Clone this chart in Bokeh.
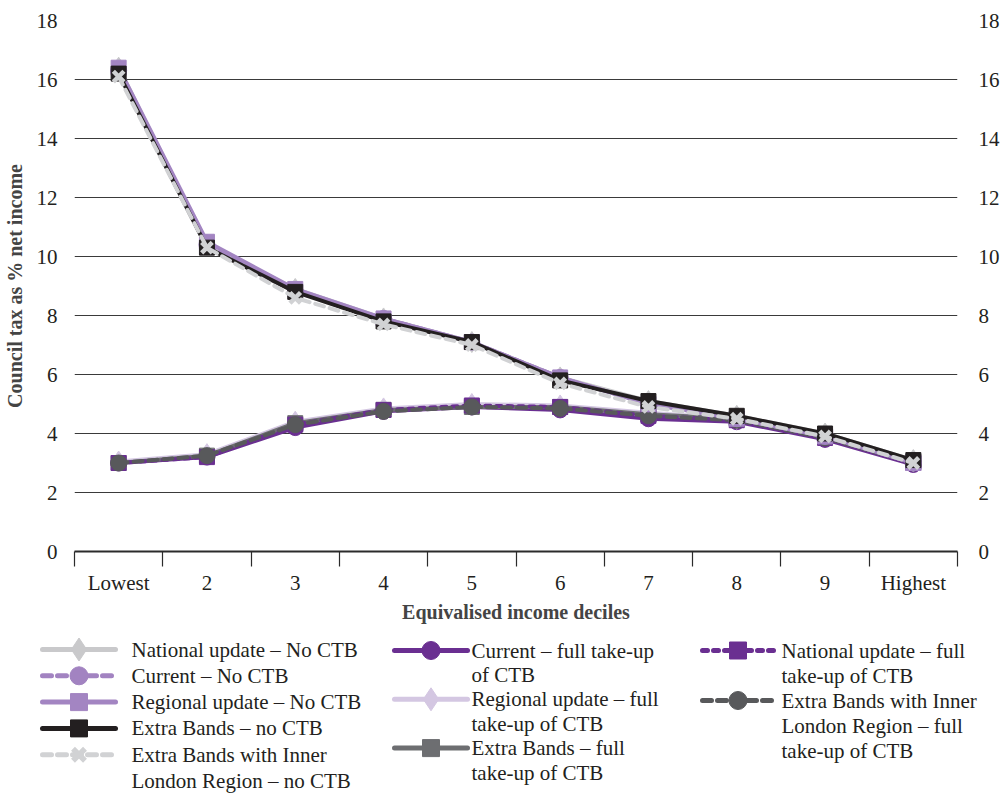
from bokeh.plotting import figure
from bokeh.models import FixedTicker, LinearAxis, Range1d, ColumnDataSource
from bokeh.core.properties import value
from bokeh.embed import file_html
from bokeh.resources import INLINE

# ---------------- data ----------------
deciles = ["Lowest", "2", "3", "4", "5", "6", "7", "8", "9", "Highest"]

national_no_ctb = [16.4, 10.4, 8.9, 7.9, 7.1, 5.9, 5.1, 4.6, 4.0, 3.1]
current_no_ctb = [16.3, 10.4, 8.8, 7.9, 7.1, 5.9, 5.0, 4.5, 3.9, 3.0]
regional_no_ctb = [16.4, 10.5, 8.9, 7.9, 7.1, 5.9, 5.0, 4.5, 3.9, 3.0]
extra_no_ctb = [16.2, 10.3, 8.8, 7.8, 7.1, 5.8, 5.1, 4.6, 4.0, 3.1]
extra_inner_no_ctb = [16.1, 10.3, 8.6, 7.7, 7.0, 5.7, 4.9, 4.5, 3.9, 3.0]

current_full = [3.0, 3.2, 4.2, 4.75, 4.9, 4.8, 4.5, 4.4, 3.8, 2.95]
regional_full = [3.05, 3.3, 4.4, 4.85, 5.0, 4.95, 4.7, 4.5, 3.95, 3.05]
extra_full = [3.0, 3.25, 4.35, 4.8, 4.9, 4.9, 4.65, 4.5, 3.9, 3.05]
national_full = [3.0, 3.2, 4.3, 4.8, 4.95, 4.9, 4.6, 4.45, 3.85, 3.0]
extra_inner_full = [3.0, 3.25, 4.3, 4.75, 4.9, 4.85, 4.6, 4.45, 3.85, 3.0]

y_ticks = [0, 2, 4, 6, 8, 10, 12, 14, 16, 18]

FONT = "Liberation Serif"

series = [
    ("National update \u2013 No CTB", national_no_ctb, "#c9c9cb", "solid", "diamond"),
    ("Current \u2013 No CTB", current_no_ctb, "#a283c1", "dashed", "circle"),
    ("Regional update \u2013 No CTB", regional_no_ctb, "#a385c2", "solid", "square"),
    ("Extra Bands \u2013 no CTB", extra_no_ctb, "#231f20", "solid", "square"),
    ("Extra Bands with Inner London Region \u2013 no CTB", extra_inner_no_ctb, "#d1d2d4", "dashed", "x"),
    ("Current \u2013 full take-up of CTB", current_full, "#6a2f91", "solid", "circle"),
    ("Regional update \u2013 full take-up of CTB", regional_full, "#d4c7e2", "solid", "diamond"),
    ("Extra Bands \u2013 full take-up of CTB", extra_full, "#6d6e71", "solid", "square"),
    ("National update \u2013 full take-up of CTB", national_full, "#6a2f91", "dotted", "square"),
    ("Extra Bands with Inner London Region \u2013 full take-up of CTB", extra_inner_full, "#58595b", "dashed", "circle"),
]

DASH = {"solid": "solid", "dashed": "9 6", "dotted": "5 6"}
MSIZE = {"diamond": 21, "circle": 16, "square": 15, "x": 15}

xs = [i + 0.5 for i in range(len(deciles))]

# ---------------- main chart ----------------
p = figure(frame_width=883, frame_height=531, output_backend="svg", toolbar_location=None,
           x_range=Range1d(0, len(deciles)), y_range=Range1d(0, 18),
           min_border_left=74, min_border_right=39, min_border_top=20, min_border_bottom=69,
           y_axis_location=None, x_axis_location=None)
p.outline_line_color = None
p.background_fill_color = "white"
p.border_fill_color = "white"

p.ygrid.ticker = FixedTicker(ticks=y_ticks[1:])
p.ygrid.grid_line_color = "#3a3a3a"
p.ygrid.grid_line_width = 1.2
p.xgrid.grid_line_color = None

xaxis = LinearAxis(ticker=FixedTicker(ticks=xs, minor_ticks=list(range(len(deciles) + 1))),
                   major_label_overrides={x: d for x, d in zip(xs, deciles)})
xaxis.axis_label = "Equivalised income deciles"
xaxis.axis_label_text_font = FONT
xaxis.axis_label_text_font_style = "bold"
xaxis.axis_label_text_font_size = "20px"
xaxis.axis_label_standoff = 3
xaxis.axis_line_color = "#2b2b2b"
xaxis.axis_line_width = 2
xaxis.major_tick_line_color = None
xaxis.minor_tick_line_color = "#2b2b2b"
xaxis.minor_tick_line_width = 1.2
xaxis.minor_tick_in = 0
xaxis.minor_tick_out = 15
xaxis.major_label_standoff = 4
xaxis.major_label_text_font = FONT
xaxis.major_label_text_font_size = "21px"
xaxis.major_label_text_color = "#231f20"
p.add_layout(xaxis, "below")

for side in ("left", "right"):
    ax = LinearAxis(ticker=FixedTicker(ticks=y_ticks))
    ax.axis_line_color = None
    ax.major_tick_line_color = None
    ax.minor_tick_line_color = None
    ax.major_label_text_font = FONT
    ax.major_label_text_font_size = "21px"
    ax.major_label_text_color = "#231f20"
    if side == "left":
        ax.major_label_standoff = 11
        ax.axis_label = "Council tax as % net income"
        ax.axis_label_text_font = FONT
        ax.axis_label_text_font_style = "bold"
        ax.axis_label_text_font_size = "20px"
        ax.axis_label_standoff = 8
    else:
        ax.major_label_standoff = 15
    p.add_layout(ax, side)

order = list(range(5, 10)) + list(range(0, 5))
for i in order:
    name, vals, col, dash, marker = series[i]
    src = ColumnDataSource(dict(x=xs, y=vals))
    p.line("x", "y", source=src, line_color=col, line_width=4, line_dash=DASH[dash],
           line_cap="round", line_join="round")
    if marker == "x":
        p.scatter("x", "y", source=src, marker="x", size=MSIZE[marker], line_color=col, line_width=4.5)
    else:
        p.scatter("x", "y", source=src, marker=marker, size=MSIZE[marker], fill_color=col, line_color=col)

# ---------------- legend (separate panel, pixel coordinates) ----------------
LEG_H = 173
leg = figure(width=996, height=LEG_H, output_backend="svg", toolbar_location=None,
             x_range=Range1d(0, 996), y_range=Range1d(LEG_H, 0),
             min_border=0, min_border_left=0, min_border_right=0,
             min_border_top=0, min_border_bottom=0,
             x_axis_location=None, y_axis_location=None)
leg.outline_line_color = None
leg.grid.grid_line_color = None

legend_lines = [
    ["National update \u2013 No CTB"],
    ["Current \u2013 No CTB"],
    ["Regional update \u2013 No CTB"],
    ["Extra Bands \u2013 no CTB"],
    ["Extra Bands with Inner", "London Region \u2013 no CTB"],
    ["Current \u2013 full take-up", "of CTB"],
    ["Regional update \u2013 full", "take-up of CTB"],
    ["Extra Bands \u2013 full", "take-up of CTB"],
    ["National update \u2013 full", "take-up of CTB"],
    ["Extra Bands with Inner", "London Region \u2013 full", "take-up of CTB"],
]
cols = [
    (42, 115, 131, 24, 26.3, [0, 1, 2, 3, 4]),
    (394, 467, 471, 25, 24.4, [5, 6, 7]),
    (702, 773, 781, 25, 25.0, [8, 9]),
]
for x0, x1, tx, y0, step, idxs in cols:
    yy = y0
    for i in idxs:
        name, vals, col, dash, marker = series[i]
        leg.line([x0, x1], [yy, yy], line_color=col, line_width=5, line_dash=DASH[dash], line_cap="round")
        xm = (x0 + x1) / 2
        if marker == "x":
            leg.scatter([xm], [yy], marker="x", size=17, line_color=col, line_width=5.5)
        else:
            leg.scatter([xm], [yy], marker=marker, size=MSIZE[marker] + 2, fill_color=col, line_color=col)
        lines = legend_lines[i]
        leg.text([tx] * len(lines), [yy + k * step for k in range(len(lines))], text=lines,
                 text_font=value(FONT), text_font_size="21px", text_color="#231f20",
                 text_baseline="middle", text_align="left")
        yy += step * len(lines)

open("out.html", "w").write(file_html([p, leg], INLINE))
